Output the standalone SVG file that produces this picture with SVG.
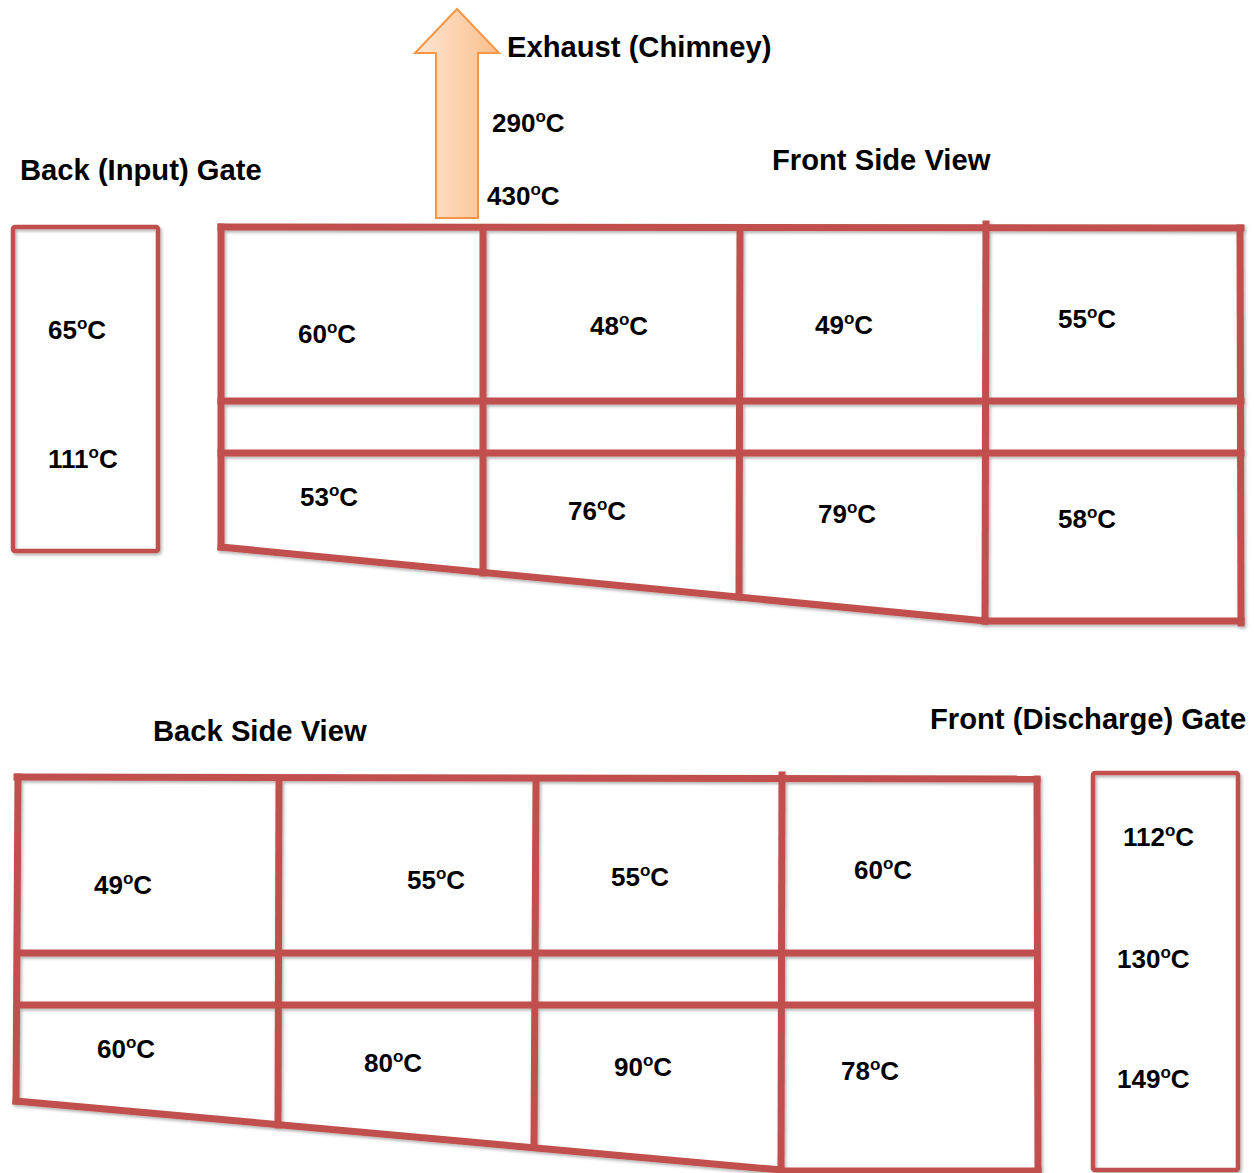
<svg xmlns="http://www.w3.org/2000/svg" width="1254" height="1173" viewBox="0 0 1254 1173">
  <defs>
    <linearGradient id="arrowFill" x1="0" y1="0" x2="1" y2="0">
      <stop offset="0" stop-color="#FEE6D3"/>
      <stop offset="1" stop-color="#FABF8C"/>
    </linearGradient>
    <filter id="shadow" x="-5%" y="-5%" width="110%" height="110%">
      <feDropShadow dx="1.5" dy="2" stdDeviation="1.5" flood-color="#000" flood-opacity="0.3"/>
    </filter>
  </defs>
  <style>
    .frame { stroke: #C0504D; stroke-width: 7; fill: none; stroke-linecap: square; }
    .gate { stroke: #C0504D; stroke-width: 4.5; fill: none; }
    .title { font-family: "Liberation Sans", Arial, sans-serif; font-weight: bold; font-size: 29.2px; fill: #000; }
    .temp { font-family: "Liberation Sans", Arial, sans-serif; font-weight: bold; font-size: 26px; fill: #000; }
    .deg { font-size: 17px; }
  </style>
  <rect width="1254" height="1173" fill="#fff"/>

  <!-- Exhaust arrow -->
  <g id="exhaust">
    <path d="M457,9 L499,53 L478,53 L478,218 L436,218 L436,53 L415,53 Z" fill="url(#arrowFill)" stroke="#F79646" stroke-width="2" stroke-linejoin="miter"/>
    <text class="title" x="507" y="57">Exhaust (Chimney)</text>
    <text class="temp" x="492" y="132">290<tspan class="deg" dy="-10">o</tspan><tspan dy="10">C</tspan></text>
    <text class="temp" x="487" y="205">430<tspan class="deg" dy="-10">o</tspan><tspan dy="10">C</tspan></text>
  </g>

  <!-- Back (Input) Gate -->
  <g id="input-gate">
    <text class="title" x="20" y="180">Back (Input) Gate</text>
    <rect class="gate" x="13" y="227" width="145" height="324" rx="2" filter="url(#shadow)"/>
    <text class="temp" x="48" y="339">65<tspan class="deg" dy="-10">o</tspan><tspan dy="10">C</tspan></text>
    <text class="temp" x="48" y="468">111<tspan class="deg" dy="-10">o</tspan><tspan dy="10">C</tspan></text>
  </g>

  <!-- Front Side View -->
  <g id="front-side-view">
    <text class="title" x="772" y="170">Front Side View</text>
    <g class="frame" filter="url(#shadow)">
      <line x1="221" y1="227" x2="1241" y2="228"/>
      <line x1="221" y1="401" x2="1241" y2="401"/>
      <line x1="221" y1="453" x2="1241" y2="453"/>
      <line x1="221" y1="227" x2="221" y2="547"/>
      <line x1="483" y1="229" x2="483" y2="573"/>
      <line x1="740" y1="233" x2="739" y2="597"/>
      <line x1="986" y1="224" x2="985" y2="621"/>
      <line x1="1240" y1="228" x2="1241" y2="623"/>
      <line x1="221" y1="547" x2="985" y2="621"/>
      <line x1="985" y1="621" x2="1241" y2="621"/>
    </g>
    <text class="temp" x="298" y="343">60<tspan class="deg" dy="-10">o</tspan><tspan dy="10">C</tspan></text>
    <text class="temp" x="590" y="335">48<tspan class="deg" dy="-10">o</tspan><tspan dy="10">C</tspan></text>
    <text class="temp" x="815" y="334">49<tspan class="deg" dy="-10">o</tspan><tspan dy="10">C</tspan></text>
    <text class="temp" x="1058" y="328">55<tspan class="deg" dy="-10">o</tspan><tspan dy="10">C</tspan></text>
    <text class="temp" x="300" y="506">53<tspan class="deg" dy="-10">o</tspan><tspan dy="10">C</tspan></text>
    <text class="temp" x="568" y="520">76<tspan class="deg" dy="-10">o</tspan><tspan dy="10">C</tspan></text>
    <text class="temp" x="818" y="523">79<tspan class="deg" dy="-10">o</tspan><tspan dy="10">C</tspan></text>
    <text class="temp" x="1058" y="528">58<tspan class="deg" dy="-10">o</tspan><tspan dy="10">C</tspan></text>
  </g>

  <!-- Back Side View -->
  <g id="back-side-view">
    <text class="title" x="153" y="741">Back Side View</text>
    <g class="frame" filter="url(#shadow)">
      <line x1="17" y1="777" x2="1037" y2="779"/>
      <line x1="19" y1="953" x2="1036" y2="953"/>
      <line x1="19" y1="1005" x2="1036" y2="1005"/>
      <line x1="18" y1="777" x2="16" y2="1101"/>
      <line x1="279" y1="779" x2="278" y2="1125"/>
      <line x1="536" y1="784" x2="534" y2="1147"/>
      <line x1="782" y1="775" x2="781" y2="1170"/>
      <line x1="1037" y1="779" x2="1038" y2="1170"/>
      <line x1="16" y1="1101" x2="781" y2="1170"/>
      <line x1="781" y1="1171" x2="1038" y2="1171"/>
    </g>
    <text class="temp" x="94" y="894">49<tspan class="deg" dy="-10">o</tspan><tspan dy="10">C</tspan></text>
    <text class="temp" x="407" y="889">55<tspan class="deg" dy="-10">o</tspan><tspan dy="10">C</tspan></text>
    <text class="temp" x="611" y="886">55<tspan class="deg" dy="-10">o</tspan><tspan dy="10">C</tspan></text>
    <text class="temp" x="854" y="879">60<tspan class="deg" dy="-10">o</tspan><tspan dy="10">C</tspan></text>
    <text class="temp" x="97" y="1058">60<tspan class="deg" dy="-10">o</tspan><tspan dy="10">C</tspan></text>
    <text class="temp" x="364" y="1072">80<tspan class="deg" dy="-10">o</tspan><tspan dy="10">C</tspan></text>
    <text class="temp" x="614" y="1076">90<tspan class="deg" dy="-10">o</tspan><tspan dy="10">C</tspan></text>
    <text class="temp" x="841" y="1080">78<tspan class="deg" dy="-10">o</tspan><tspan dy="10">C</tspan></text>
  </g>

  <!-- Front (Discharge) Gate -->
  <g id="discharge-gate">
    <text class="title" x="930" y="729">Front (Discharge) Gate</text>
    <rect class="gate" x="1093" y="773" width="145" height="397" rx="2" filter="url(#shadow)"/>
    <text class="temp" x="1123" y="846">112<tspan class="deg" dy="-10">o</tspan><tspan dy="10">C</tspan></text>
    <text class="temp" x="1117" y="968">130<tspan class="deg" dy="-10">o</tspan><tspan dy="10">C</tspan></text>
    <text class="temp" x="1117" y="1088">149<tspan class="deg" dy="-10">o</tspan><tspan dy="10">C</tspan></text>
  </g>

  <g id="connectors"/>
</svg>
